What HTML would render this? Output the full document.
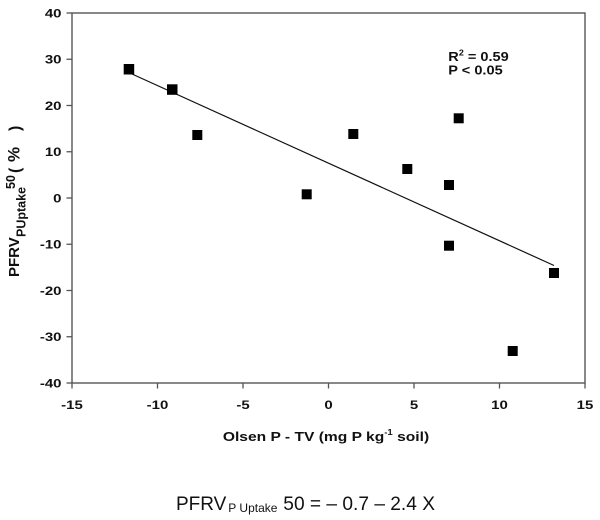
<!DOCTYPE html>
<html>
<head>
<meta charset="utf-8">
<style>
  html,body{margin:0;padding:0;background:#fff;}
  svg{display:block;}
  text{font-family:"Liberation Sans",Arial,sans-serif;fill:#111;}
  .b{font-weight:bold;}
</style>
</head>
<body>
<svg width="600" height="520" viewBox="0 0 600 520" xmlns="http://www.w3.org/2000/svg">
  <!-- plot frame -->
  <rect x="72" y="13" width="513" height="370" fill="none" stroke="#555" stroke-width="1.4"/>

  <!-- y ticks -->
  <g stroke="#555" stroke-width="1.3">
    <line x1="66.5" y1="13" x2="72" y2="13"/>
    <line x1="66.5" y1="59.25" x2="72" y2="59.25"/>
    <line x1="66.5" y1="105.5" x2="72" y2="105.5"/>
    <line x1="66.5" y1="151.75" x2="72" y2="151.75"/>
    <line x1="66.5" y1="198" x2="72" y2="198"/>
    <line x1="66.5" y1="244.25" x2="72" y2="244.25"/>
    <line x1="66.5" y1="290.5" x2="72" y2="290.5"/>
    <line x1="66.5" y1="336.75" x2="72" y2="336.75"/>
    <line x1="66.5" y1="383" x2="72" y2="383"/>
  </g>
  <!-- x ticks -->
  <g stroke="#555" stroke-width="1.3">
    <line x1="72" y1="383" x2="72" y2="388.5"/>
    <line x1="157.5" y1="383" x2="157.5" y2="388.5"/>
    <line x1="243" y1="383" x2="243" y2="388.5"/>
    <line x1="328.5" y1="383" x2="328.5" y2="388.5"/>
    <line x1="414" y1="383" x2="414" y2="388.5"/>
    <line x1="499.5" y1="383" x2="499.5" y2="388.5"/>
    <line x1="585" y1="383" x2="585" y2="388.5"/>
  </g>

  <!-- y tick labels -->
  <g class="b" font-size="12" text-anchor="end">
    <text transform="translate(61.5,17.3) scale(1.25,1)">40</text>
    <text transform="translate(61.5,63.55) scale(1.25,1)">30</text>
    <text transform="translate(61.5,109.8) scale(1.25,1)">20</text>
    <text transform="translate(61.5,156.05) scale(1.25,1)">10</text>
    <text transform="translate(61.5,202.3) scale(1.25,1)">0</text>
    <text transform="translate(61.5,248.55) scale(1.25,1)">-10</text>
    <text transform="translate(61.5,294.8) scale(1.25,1)">-20</text>
    <text transform="translate(61.5,341.05) scale(1.25,1)">-30</text>
    <text transform="translate(61.5,387.3) scale(1.25,1)">-40</text>
  </g>

  <!-- x tick labels -->
  <g class="b" font-size="12" text-anchor="middle">
    <text transform="translate(72,409) scale(1.25,1)">-15</text>
    <text transform="translate(157.5,409) scale(1.25,1)">-10</text>
    <text transform="translate(243,409) scale(1.25,1)">-5</text>
    <text transform="translate(328.5,409) scale(1.25,1)">0</text>
    <text transform="translate(414,409) scale(1.25,1)">5</text>
    <text transform="translate(499.5,409) scale(1.25,1)">10</text>
    <text transform="translate(585,409) scale(1.25,1)">15</text>
  </g>

  <!-- x axis title -->
  <text class="b" font-size="13" text-anchor="middle" transform="translate(326,441) scale(1.2,1)">Olsen P - TV (mg P kg<tspan font-size="8" dy="-6">-1</tspan><tspan dy="6"> soil)</tspan></text>

  <!-- y axis title (rotated) -->
  <g class="b">
    <text font-size="15" transform="translate(19,277) rotate(-90)">PFRV</text>
    <text font-size="12.5" transform="translate(25.5,237) rotate(-90)">PUptake</text>
    <text font-size="12.5" transform="translate(15,189) rotate(-90)">50</text>
    <text font-size="16" transform="translate(20,173) rotate(-90)">(</text>
    <text font-size="17" transform="translate(19.5,162) rotate(-90)">%</text>
    <text font-size="16" transform="translate(20,131) rotate(-90)">)</text>
  </g>

  <!-- R2 / P annotation -->
  <g class="b" font-size="13">
    <text transform="translate(448.3,61) scale(1.12,1)">R<tspan font-size="8" dy="-5.5">2</tspan><tspan dy="5.5"> = 0.59</tspan></text>
    <text transform="translate(448.3,74.3) scale(1.12,1)">P &lt; 0.05</text>
  </g>

  <!-- regression line -->
  <line x1="128.7" y1="72.5" x2="554" y2="265.5" stroke="#111" stroke-width="1.2"/>

  <!-- data points -->
  <g fill="#000">
    <rect x="123.7" y="64" width="10.5" height="10.5"/>
    <rect x="167" y="84.3" width="10.5" height="10.5"/>
    <rect x="192.3" y="130" width="10" height="10"/>
    <rect x="301.7" y="189.3" width="10" height="10"/>
    <rect x="348.3" y="129" width="10" height="10"/>
    <rect x="402.3" y="164" width="10" height="10"/>
    <rect x="444" y="180" width="10" height="10"/>
    <rect x="453.7" y="113.3" width="10" height="10"/>
    <rect x="444" y="240.7" width="10" height="10"/>
    <rect x="507.7" y="346" width="10" height="10"/>
    <rect x="549" y="268" width="10" height="10"/>
  </g>

  <!-- equation -->
  <text font-size="19" x="176" y="510">PFRV</text>
  <text font-size="12" x="228.3" y="512">P Uptake</text>
  <text font-size="19" x="283.3" y="510" textLength="151.7" lengthAdjust="spacingAndGlyphs">50 = – 0.7 – 2.4 X</text>
</svg>
</body>
</html>
